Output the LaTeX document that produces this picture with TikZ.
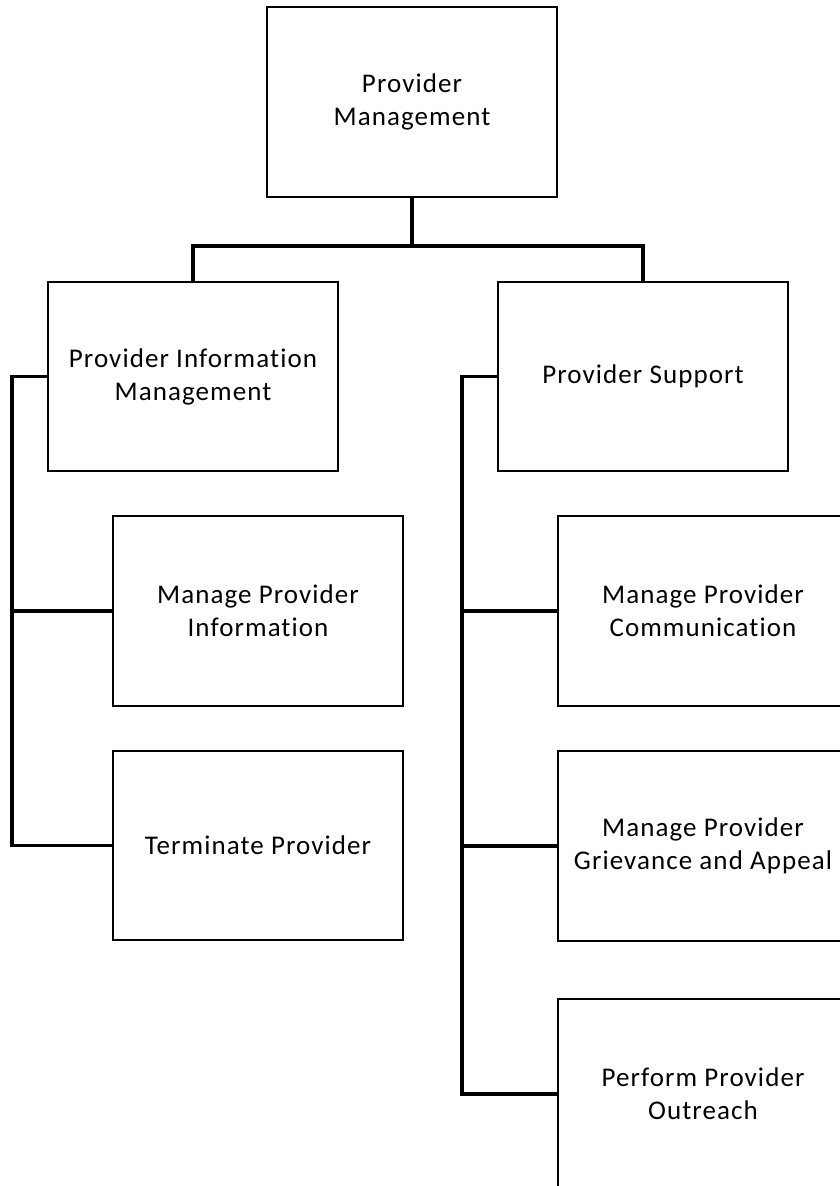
\documentclass[tikz,border=0pt]{standalone}
\usepackage{fontspec}
\setmainfont{Carlito}[LetterSpace=4, Ligatures=NoCommon]
\begin{document}
\begin{tikzpicture}[x=1pt,y=-1pt,
  box/.style={draw=black, line width=1.3pt, fill=white, align=center,
    minimum width=290pt, minimum height=190pt, inner sep=0pt,
    font=\fontsize{27}{33}\selectfont},
  conn/.style={draw=black, line width=3.4pt, line join=miter}]
\useasboundingbox (0,0) rectangle (840,1186);
\clip (0,0) rectangle (840,1186);

% top level
\node[box] (pm) at (412,102) {Provider\\Management};

% second level
\node[box, minimum height=189pt] (pim) at (193,376.5) {Provider Information\\Management};
\node[box, minimum height=189pt] (ps)  at (643,376.5) {Provider Support};

% provider information management branch
\node[box] (mpi) at (258,611) {Manage Provider\\Information};
\node[box, minimum height=189pt] (tp) at (258,845.5) {Terminate Provider};

% provider support branch
\node[box] (mpc)  at (703,611)  {Manage Provider\\Communication};
\node[box] (mpga) at (703,846)  {Manage Provider\\Grievance and Appeal};
\node[box] (ppo)  at (703,1094) {Perform Provider\\Outreach};

% connector rails
\coordinate (bus) at (0,246);
\coordinate (lrail) at (12,0);
\coordinate (rrail) at (462,0);

\draw[conn] (pm.south) -- (pm.south |- bus);
\draw[conn] (pim.north) -- (pim.north |- bus) -- (ps.north |- bus) -- (ps.north);

\draw[conn] (pim.west) -- (lrail |- pim.west) -- (lrail |- tp.west) -- (tp.west);
\draw[conn] (lrail |- mpi.west) -- (mpi.west);

\draw[conn] (ps.west) -- (rrail |- ps.west) -- (rrail |- ppo.west) -- (ppo.west);
\draw[conn] (rrail |- mpc.west) -- (mpc.west);
\draw[conn] (rrail |- mpga.west) -- (mpga.west);
\end{tikzpicture}
\end{document}
